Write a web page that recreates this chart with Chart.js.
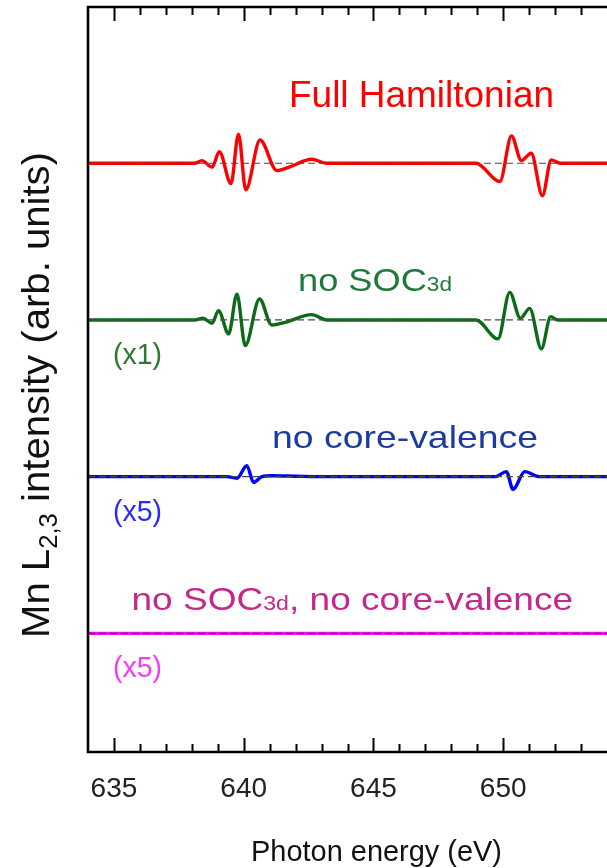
<!DOCTYPE html>
<html>
<head>
<meta charset="utf-8">
<title>Mn L2,3 spectra</title>
<script src="https://cdn.jsdelivr.net/npm/chart.js@4/dist/chart.umd.min.js"></script>
<style>
  html, body { margin: 0; padding: 0; background: #ffffff; overflow: hidden; }
  canvas { display: block; }
</style>
</head>
<body>
<canvas id="spectra" width="607" height="868"></canvas>
<script>
// Photon energy (eV) and intensity (arb. units) of each computed spectrum.
const fullE = [634, 638.1, 638.39, 638.78, 639.06, 639.51, 639.80, 640.08, 640.63, 641.28, 641.75, 642.62, 643.2, 648.95, 649.87, 650.32, 650.70, 651.08, 651.51, 651.85, 652.2, 654];
const fullI = [0, 0, 0.17, -0.25, 0.74, -1.30, 1.86, -1.70, 1.48, -0.47, -0.25, 0.25, 0, 0, -1.17, 1.74, 0.17, 0.64, -2.08, 0.21, 0, 0];

const noSocE = [634, 638.1, 638.43, 638.78, 639.03, 639.42, 639.74, 640.06, 640.61, 641.08, 641.6, 642.62, 643.2, 648.95, 649.80, 650.25, 650.66, 651.02, 651.47, 651.83, 652.1, 654];
const noSocI = [0, 0, 0.11, -0.21, 0.59, -0.89, 1.65, -1.63, 1.34, -0.32, -0.15, 0.34, 0, 0, -1.21, 1.76, 0.11, 0.74, -1.84, 0.21, 0, 0];

const noCvE = [634, 639.35, 639.74, 640.12, 640.38, 640.70, 641.1, 642.0, 643.0, 649.7, 650.12, 650.38, 650.83, 651.4, 654];
const noCvI = [0, 0, -0.02, 0.14, -0.072, 0, 0.012, 0.006, 0, 0, 0.064, -0.162, 0.064, 0, 0];

const noBothE = [634, 644, 654];
const noBothI = [0, 0, 0];

// Vertical offsets of the stacked spectra and their magnification factors.
const offsets = [30, 20, 10, 0];
const factors = [1, 1, 5, 5];
const seriesNames = ['Full Hamiltonian', 'no SOC3d', 'no core-valence', 'no SOC3d, no core-valence'];
const lineColors = ['#ff0000', '#0c6b18', '#0000ff', '#ee10ee'];

// Axis settings
const xMin = 634, xMax = 654;
const xLabelTicks = [635, 640, 645, 650];

const energies = [fullE, noSocE, noCvE, noBothE];
const intensities = [fullI, noSocI, noCvI, noBothI];

const FONT = '"Liberation Sans", Arial, Helvetica, sans-serif';

const datasets = [];
energies.forEach((eArr, k) => {
  datasets.push({
    label: seriesNames[k],
    data: eArr.map((e, i) => ({ x: e, y: offsets[k] + factors[k] * intensities[k][i] })),
    borderColor: lineColors[k],
    borderWidth: 3.4,
    pointRadius: 0,
    cubicInterpolationMode: 'monotone',
    fill: false,
    order: 1
  });
});
// Dashed zero lines for each spectrum, drawn over the curves
offsets.forEach((off, k) => {
  datasets.push({
    label: 'zero ' + k,
    data: [{ x: xMin, y: off }, { x: xMax, y: off }],
    borderColor: '#4a4a4a',
    borderWidth: 1.2,
    borderDash: [7, 4],
    pointRadius: 0,
    fill: false,
    order: 0
  });
});

// Draws text made of normal and subscript pieces, optionally stretched to fit a length.
function drawRich(ctx, parts, left, right, baseline, color) {
  ctx.save();
  ctx.fillStyle = color;
  ctx.textBaseline = 'alphabetic';
  ctx.textAlign = 'left';
  let w = 0;
  parts.forEach(p => { ctx.font = p.size + 'px ' + FONT; w += ctx.measureText(p.t).width; });
  const sx = right !== null ? (right - left) / w : 1;
  ctx.translate(left, baseline);
  ctx.scale(sx, 1);
  let x = 0;
  parts.forEach(p => {
    ctx.font = p.size + 'px ' + FONT;
    ctx.fillText(p.t, x, p.dy || 0);
    x += ctx.measureText(p.t).width;
  });
  ctx.restore();
}

const decorations = {
  id: 'decorations',
  afterDraw(chart) {
    const ctx = chart.ctx;
    const a = chart.chartArea;
    const xs = chart.scales.x;

    // Frame (left, top, bottom)
    ctx.save();
    ctx.strokeStyle = '#000';
    ctx.lineWidth = 2.6;
    ctx.beginPath();
    ctx.moveTo(a.right + 2, a.top);
    ctx.lineTo(a.left, a.top);
    ctx.lineTo(a.left, a.bottom);
    ctx.lineTo(a.right + 2, a.bottom);
    ctx.stroke();

    // Inward tick marks on the top and bottom axes
    ctx.lineWidth = 2;
    xs.ticks.forEach(t => {
      if (t.value <= xMin || t.value >= xMax) return;
      const px = Math.round(xs.getPixelForValue(t.value)) + 0.5;
      const len = t.value % 5 === 0 ? 14 : 8;
      ctx.beginPath();
      ctx.moveTo(px, a.bottom);
      ctx.lineTo(px, a.bottom - len);
      ctx.moveTo(px, a.top);
      ctx.lineTo(px, a.top + len);
      ctx.stroke();
    });
    ctx.restore();

    // Series names
    drawRich(ctx, [{ t: 'Full Hamiltonian', size: 36 }], 289, 554, 106.5, '#ff0000');
    drawRich(ctx, [{ t: 'no SOC', size: 32 }, { t: '3d', size: 20 }], 298, 452, 291, '#1f7a3a');
    drawRich(ctx, [{ t: 'no core-valence', size: 32 }], 272, 538, 448, '#1a3c9e');
    drawRich(ctx, [{ t: 'no SOC', size: 32 }, { t: '3d', size: 20 }, { t: ', no core-valence', size: 32 }], 131.5, 573, 610, '#c4288a');

    // Magnification factors
    drawRich(ctx, [{ t: '(x1)', size: 29 }], 113, 162, 364, '#2c7a2c');
    drawRich(ctx, [{ t: '(x5)', size: 29 }], 113, 162, 521, '#2a2aff');
    drawRich(ctx, [{ t: '(x5)', size: 29 }], 113, 162, 677, '#f53cf5');

    // Axis titles
    drawRich(ctx, [{ t: 'Photon energy (eV)', size: 30 }], 251, 502, 861, '#111');

    ctx.save();
    ctx.translate(49, 0);
    ctx.rotate(-Math.PI / 2);
    // after rotation, x runs upward: text from y=638 (start) to y=152 (end)
    drawRich(ctx, [{ t: 'Mn L', size: 39 }, { t: '2,3', size: 25, dy: 8 }, { t: ' intensity (arb. units)', size: 39 }], -638, -152, 0, '#111');
    ctx.restore();
  }
};

new Chart(document.getElementById('spectra'), {
  type: 'line',
  data: { datasets },
  options: {
    responsive: false,
    animation: false,
    events: [],
    layout: { autoPadding: false, padding: { top: 7, left: 88, right: 0, bottom: 0 } },
    plugins: { legend: { display: false }, tooltip: { enabled: false } },
    scales: {
      x: {
        type: 'linear',
        min: xMin,
        max: xMax,
        grid: { display: false, drawTicks: false },
        border: { display: false },
        ticks: {
          stepSize: 1,
          autoSkip: false,
          minRotation: 0,
          maxRotation: 0,
          padding: 20,
          color: '#222',
          font: { family: FONT, size: 28 },
          callback: v => (xLabelTicks.includes(v) ? String(v) : '')
        },
        afterFit: s => { s.height = 116; s.paddingLeft = 0; s.paddingRight = 0; }
      },
      y: {
        display: false,
        min: -7.57,
        max: 39.97
      }
    }
  },
  plugins: [decorations]
});
</script>
</body>
</html>
